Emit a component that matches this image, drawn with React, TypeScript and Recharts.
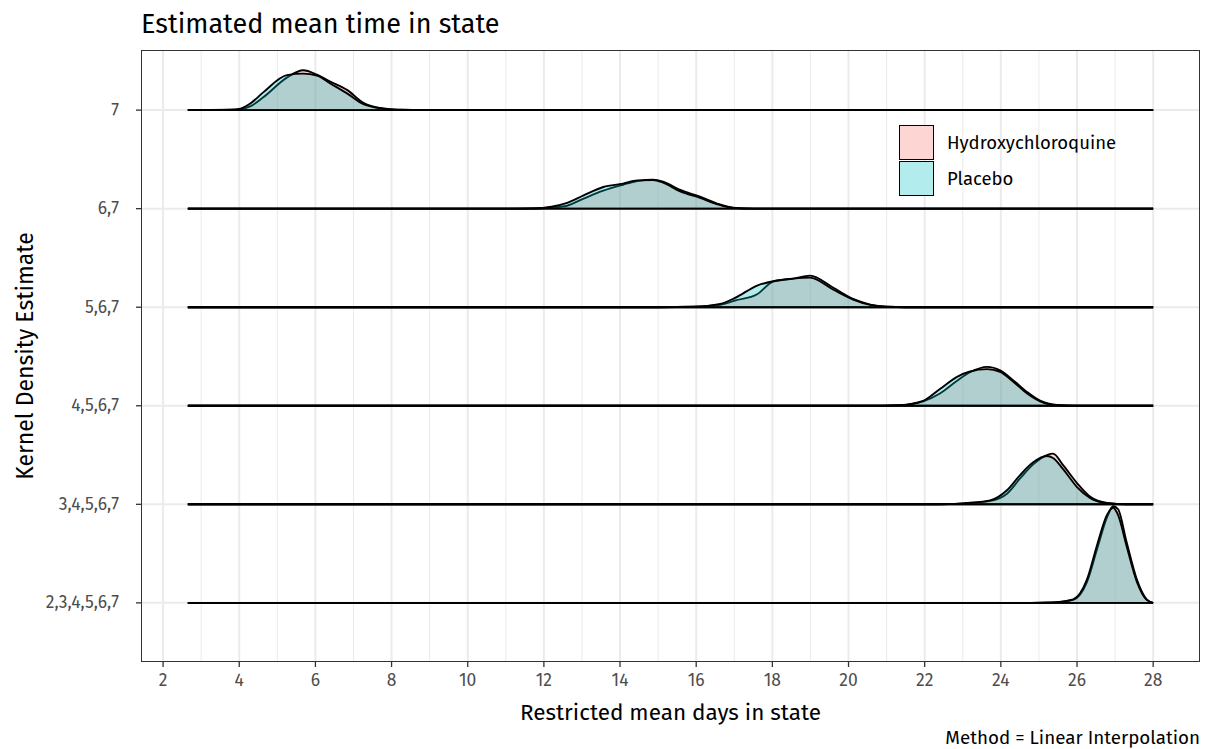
import { ComposedChart, Area, XAxis, YAxis, CartesianGrid } from "recharts";

// y rows, bottom to top
const ridgeLabels = ["2,3,4,5,6,7", "3,4,5,6,7", "4,5,6,7", "5,6,7", "6,7", "7"];
const rowTicks = [0, 1, 2, 3, 4, 5];
const xTicks = [2, 4, 6, 8, 10, 12, 14, 16, 18, 20, 22, 24, 26, 28];
const xMinor = [3, 5, 7, 9, 11, 13, 15, 17, 19, 21, 23, 25, 27];

// density heights, scaled to the row spacing
const x7 = [2.65, 3.8, 4.0, 4.3, 4.63, 5.25, 5.68, 6.04, 6.39, 6.83, 7.26, 7.7, 8.14, 9, 28];
const hcq7 = [0, 0.003, 0.008, 0.04, 0.13, 0.33, 0.405, 0.36, 0.29, 0.205, 0.075, 0.022, 0.005, 0, 0];
const pla7 = [0, 0.005, 0.012, 0.07, 0.18, 0.355, 0.37, 0.35, 0.27, 0.17, 0.06, 0.018, 0.004, 0, 0];

const x67 = [2.65, 11.0, 11.72, 12.2, 12.61, 13.03, 13.56, 14.08, 14.45, 14.87, 15.13, 15.58, 16.1, 16.55, 16.97, 17.5, 28];
const hcq67 = [0, 0, 0.002, 0.012, 0.03, 0.1, 0.183, 0.243, 0.28, 0.294, 0.275, 0.19, 0.122, 0.052, 0.01, 0, 0];
const pla67 = [0, 0, 0.003, 0.02, 0.058, 0.132, 0.22, 0.254, 0.287, 0.29, 0.265, 0.175, 0.11, 0.045, 0.008, 0, 0];

const x567 = [2.65, 15.0, 15.92, 16.63, 17.02, 17.6, 18.02, 18.55, 18.99, 19.59, 20.12, 20.57, 21.01, 21.5, 28];
const hcq567 = [0, 0, 0.004, 0.025, 0.068, 0.132, 0.26, 0.29, 0.321, 0.2, 0.084, 0.027, 0.005, 0, 0];
const pla567 = [0, 0, 0.005, 0.034, 0.094, 0.22, 0.264, 0.29, 0.3, 0.18, 0.078, 0.024, 0.004, 0, 0];

const x4567 = [2.65, 20.5, 21.35, 21.96, 22.4, 22.85, 23.19, 23.64, 23.98, 24.32, 24.69, 25.03, 25.48, 26.0, 28];
const hcq4567 = [0, 0, 0.006, 0.045, 0.125, 0.254, 0.34, 0.395, 0.36, 0.26, 0.14, 0.052, 0.008, 0, 0];
const pla4567 = [0, 0, 0.007, 0.05, 0.17, 0.294, 0.348, 0.372, 0.345, 0.245, 0.125, 0.045, 0.006, 0, 0];

const x34567 = [2.65, 22.3, 23.01, 23.72, 24.16, 24.5, 24.85, 25.21, 25.37, 25.63, 26.0, 26.34, 26.79, 27.3, 28];
const hcq34567 = [0, 0, 0.01, 0.035, 0.108, 0.26, 0.405, 0.5, 0.514, 0.4, 0.215, 0.078, 0.013, 0, 0];
const pla34567 = [0, 0, 0.01, 0.04, 0.142, 0.294, 0.426, 0.49, 0.47, 0.36, 0.175, 0.065, 0.011, 0, 0];

const x234567 = [2.65, 24.8, 25.37, 25.9, 26.26, 26.53, 26.79, 26.95, 27.08, 27.3, 27.57, 27.83, 28];
const hcq234567 = [0, 0, 0.005, 0.03, 0.21, 0.55, 0.87, 0.98, 0.95, 0.62, 0.24, 0.036, 0];
const pla234567 = [0, 0, 0.005, 0.036, 0.235, 0.59, 0.895, 0.965, 0.89, 0.58, 0.215, 0.03, 0];

const ridges = [
  { row: 5, xs: x7, hcq: hcq7, pla: pla7 },
  { row: 4, xs: x67, hcq: hcq67, pla: pla67 },
  { row: 3, xs: x567, hcq: hcq567, pla: pla567 },
  { row: 2, xs: x4567, hcq: hcq4567, pla: pla4567 },
  { row: 1, xs: x34567, hcq: hcq34567, pla: pla34567 },
  { row: 0, xs: x234567, hcq: hcq234567, pla: pla234567 },
].map((r) => ({
  row: r.row,
  data: r.xs.map((x, i) => ({ x, hcq: r.hcq[i], pla: r.pla[i] })),
}));

const FONT = "'Fira Sans', 'Open Sans', 'Noto Sans', sans-serif";
const HCQ = "#F8766D";
const PLA = "#00BFC4";

const YTick = (props: any) => {
  const { y, payload } = props;
  return (
    <text x={119} y={y} textAnchor="end" dominantBaseline="central" fontSize={17.5} fill="#4D4D4D" fontFamily={FONT}>
      {ridgeLabels[payload.value]}
    </text>
  );
};

const XTick = (props: any) => {
  const { x, payload } = props;
  return (
    <text x={x} y={686} textAnchor="middle" fontSize={17.5} fill="#4D4D4D" fontFamily={FONT}>
      {payload.value}
    </text>
  );
};

export default function App() {
  return (
    <div style={{ position: "absolute", left: 0, top: 0, width: 1208, height: 749, background: "#fff", fontFamily: FONT }}>
      <ComposedChart width={1208} height={749} margin={{ top: 50, right: 8, bottom: 0, left: 0 }}>
        <CartesianGrid horizontal={false} verticalValues={xMinor} stroke="#EBEBEB" strokeWidth={1} />
        <CartesianGrid horizontalValues={rowTicks} verticalValues={xTicks} stroke="#EBEBEB" strokeWidth={2} />
        <XAxis
          dataKey="x"
          type="number"
          domain={[1.42, 29.23]}
          allowDataOverflow
          ticks={xTicks}
          height={87}
          axisLine={false}
          tickLine={{ stroke: "#333333", strokeWidth: 1.3 }}
          tickSize={5}
          tick={<XTick />}
        />
        <YAxis
          type="number"
          domain={[-0.6, 5.61]}
          allowDataOverflow
          ticks={rowTicks}
          width={141}
          axisLine={false}
          tickLine={{ stroke: "#333333", strokeWidth: 1.3 }}
          tickSize={5}
          tick={<YTick />}
        />
        {ridges.flatMap((r) => [
          <Area
            key={`h${r.row}`}
            data={r.data}
            name="Hydroxychloroquine"
            dataKey={(d: any) => [r.row, r.row + d.hcq]}
            type="monotone"
            stroke="#000"
            strokeWidth={1.9}
            fill={HCQ}
            fillOpacity={0.3}
            dot={false}
            activeDot={false}
            isAnimationActive={false}
          />,
          <Area
            key={`p${r.row}`}
            data={r.data}
            name="Placebo"
            dataKey={(d: any) => [r.row, r.row + d.pla]}
            type="monotone"
            stroke="#000"
            strokeWidth={1.9}
            fill={PLA}
            fillOpacity={0.3}
            dot={false}
            activeDot={false}
            isAnimationActive={false}
          />,
        ])}
      </ComposedChart>

      {/* panel border */}
      <div
        style={{
          position: "absolute",
          left: 141,
          top: 50,
          width: 1059,
          height: 612,
          boxSizing: "border-box",
          border: "1.4px solid #333333",
          pointerEvents: "none",
        }}
      />

      {/* legend keys */}
      <div style={{ position: "absolute", left: 899, top: 125 }}>
        {["#FDD6D3", "#B3ECED"].map((c) => (
          <div key={c} style={{ width: 35, height: 35, marginBottom: 1, boxSizing: "border-box", border: "1.6px solid #000", background: c }} />
        ))}
      </div>

      {/* text layer */}
      <svg width={1208} height={749} style={{ position: "absolute", left: 0, top: 0, pointerEvents: "none" }} fontFamily={FONT}>
        <text x={141} y={33} fontSize={27} fill="#000">Estimated mean time in state</text>
        <text x={947} y={142.5} fontSize={18.5} fill="#000" dominantBaseline="central">Hydroxychloroquine</text>
        <text x={947} y={178.5} fontSize={18.5} fill="#000" dominantBaseline="central">Placebo</text>
        <text x={670.5} y={720} fontSize={22.5} fill="#000" textAnchor="middle">Restricted mean days in state</text>
        <text x={33} y={356} fontSize={23} fill="#000" textAnchor="middle" transform="rotate(-90 33 356)">Kernel Density Estimate</text>
        <text x={1200} y={744} fontSize={18.8} fill="#000" textAnchor="end">Method = Linear Interpolation</text>
      </svg>
    </div>
  );
}
